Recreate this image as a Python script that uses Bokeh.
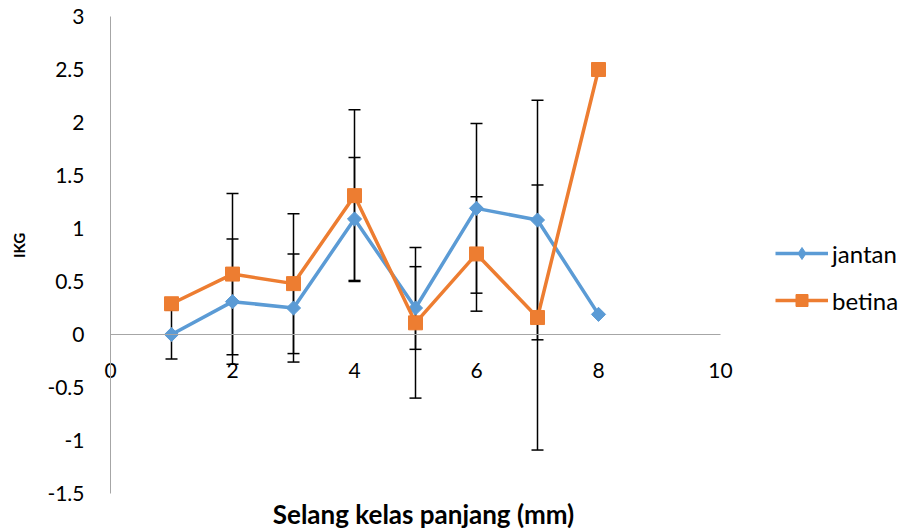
import numpy as np
from bokeh.plotting import figure
from bokeh.models import (Range1d, FixedTicker, Whisker, TeeHead, ColumnDataSource,
                          Legend, LegendItem, Label)
from bokeh.embed import file_html
from bokeh.resources import INLINE

# ---- data ----
classes = [1, 2, 3, 4, 5, 6, 7, 8]
jantan = [0.0, 0.31, 0.25, 1.09, 0.25, 1.19, 1.08, 0.19]
jantan_err = [0.23, 0.59, 0.51, 0.58, 0.39, 0.80, 1.13, None]
betina = [0.29, 0.57, 0.48, 1.31, 0.11, 0.76, 0.16, 2.50]
betina_err = [None, 0.76, 0.66, 0.81, 0.71, 0.54, 1.25, None]

x_ticks = [0, 2, 4, 6, 8, 10]
x_tick_labels = ["0", "2", "4", "6", "8", "10"]
y_ticks = [-1.5, -1, -0.5, 0, 0.5, 1, 1.5, 2, 2.5, 3]
y_tick_labels = ["-1.5", "-1", "-0.5", "0", "0.5", "1", "1.5", "2", "2.5", "3"]
x_title = "Selang kelas panjang (mm)"
y_title = "IKG"

BLUE = "#5B9BD5"
ORANGE = "#ED7D31"
AXIS_GRAY = "#A6A6A6"
FONT = "Lato"

# ---- layout (pixels) ----
W, H = 900, 528
AXIS_X = 110            # pixel column of x = 0
PX_X = 61.0             # pixels per x unit
Y_TOP_PX, Y_BOT_PX = 16, 493   # pixel rows of y = 3 and y = -1.5
Y_MIN, Y_MAX = -1.5, 3.0
PX_Y = (Y_BOT_PX - Y_TOP_PX) / (Y_MAX - Y_MIN)

x_start = -AXIS_X / PX_X
x_end = (W - AXIS_X) / PX_X
y_end = Y_MAX + Y_TOP_PX / PX_Y
y_start = Y_MIN - (H - Y_BOT_PX) / PX_Y

p = figure(width=W, height=H, output_backend="svg", toolbar_location=None,
           x_range=Range1d(x_start, x_end), y_range=Range1d(y_start, y_end),
           min_border_left=0, min_border_right=0, min_border_top=0,
           min_border_bottom=0)
p.grid.visible = False
p.outline_line_color = None
p.background_fill_color = "white"

# x axis drawn at y = 0
xa = p.xaxis[0]
xa.fixed_location = 0
xa.bounds = (0, 10)
xa.ticker = FixedTicker(ticks=x_ticks)
xa.major_label_overrides = {t: l for t, l in zip(x_ticks, x_tick_labels)}
xa.axis_line_color = AXIS_GRAY
xa.axis_line_width = 1
xa.major_tick_line_color = None
xa.minor_tick_line_color = None
xa.major_tick_out = 0
xa.major_tick_in = 0
xa.major_label_standoff = 28
xa.major_label_text_font = FONT
xa.major_label_text_font_size = "21px"
xa.major_label_text_color = "black"

# y axis drawn at x = 0
ya = p.yaxis[0]
ya.fixed_location = 0
ya.bounds = (Y_MIN, Y_MAX)
ya.ticker = FixedTicker(ticks=y_ticks)
ya.major_label_overrides = {t: l for t, l in zip(y_ticks, y_tick_labels)}
ya.axis_line_color = AXIS_GRAY
ya.axis_line_width = 1
ya.major_tick_line_color = None
ya.minor_tick_line_color = None
ya.major_tick_out = 0
ya.major_tick_in = 0
ya.major_label_standoff = 26
ya.major_label_text_font = FONT
ya.major_label_text_font_size = "21px"
ya.major_label_text_color = "black"

# axis titles
p.add_layout(Label(x=423, y=H - 513, x_units="screen", y_units="screen", text=x_title,
                   text_align="center", text_baseline="middle", text_font=FONT,
                   text_font_size="26px", text_font_style="bold", text_color="black"))
p.add_layout(Label(x=18, y=H - 245, x_units="screen", y_units="screen", text=y_title,
                   angle=np.pi / 2, text_align="center", text_baseline="middle",
                   text_font=FONT, text_font_size="15px", text_font_style="bold",
                   text_color="black"))

# error bars
def err_source(xs, ys, es):
    xx, lo, hi = [], [], []
    for x, y, e in zip(xs, ys, es):
        if e is None:
            continue
        xx.append(x); lo.append(y - e); hi.append(y + e)
    return ColumnDataSource(dict(x=xx, lower=lo, upper=hi))

for ys, es in ((jantan, jantan_err), (betina, betina_err)):
    src = err_source(classes, ys, es)
    w = Whisker(source=src, base="x", lower="lower", upper="upper", dimension="height",
                line_color="black", line_width=1.5,
                upper_head=TeeHead(size=12, line_color="black", line_width=1.5),
                lower_head=TeeHead(size=12, line_color="black", line_width=1.5))
    p.add_layout(w)

src_j = ColumnDataSource(dict(x=classes, y=jantan))
src_b = ColumnDataSource(dict(x=classes, y=betina))

lj = p.line("x", "y", source=src_j, line_color=BLUE, line_width=3.5)
mj = p.scatter("x", "y", source=src_j, marker="square", angle=np.pi / 4, size=10,
               fill_color=BLUE, line_color=BLUE)
lb = p.line("x", "y", source=src_b, line_color=ORANGE, line_width=3.5)
mb = p.scatter("x", "y", source=src_b, marker="square", size=14,
               fill_color=ORANGE, line_color=ORANGE)
# legend key for the diamond marker (legend keys are drawn unrotated)
mj_key = p.scatter("x", "y", source=src_j, marker="diamond", size=14,
                   fill_color=BLUE, line_color=BLUE, visible=False)

legend = Legend(items=[LegendItem(label="jantan", renderers=[lj, mj_key]),
                       LegendItem(label="betina", renderers=[lb, mb])],
                location=(775, H - 315), orientation="vertical",
                glyph_width=53, glyph_height=30, label_standoff=4, spacing=17,
                padding=0, margin=0, border_line_color=None,
                background_fill_alpha=0,
                label_text_font=FONT, label_text_font_size="24px",
                label_text_color="black")
p.add_layout(legend)

open("out.html", "w").write(file_html(p, INLINE))
